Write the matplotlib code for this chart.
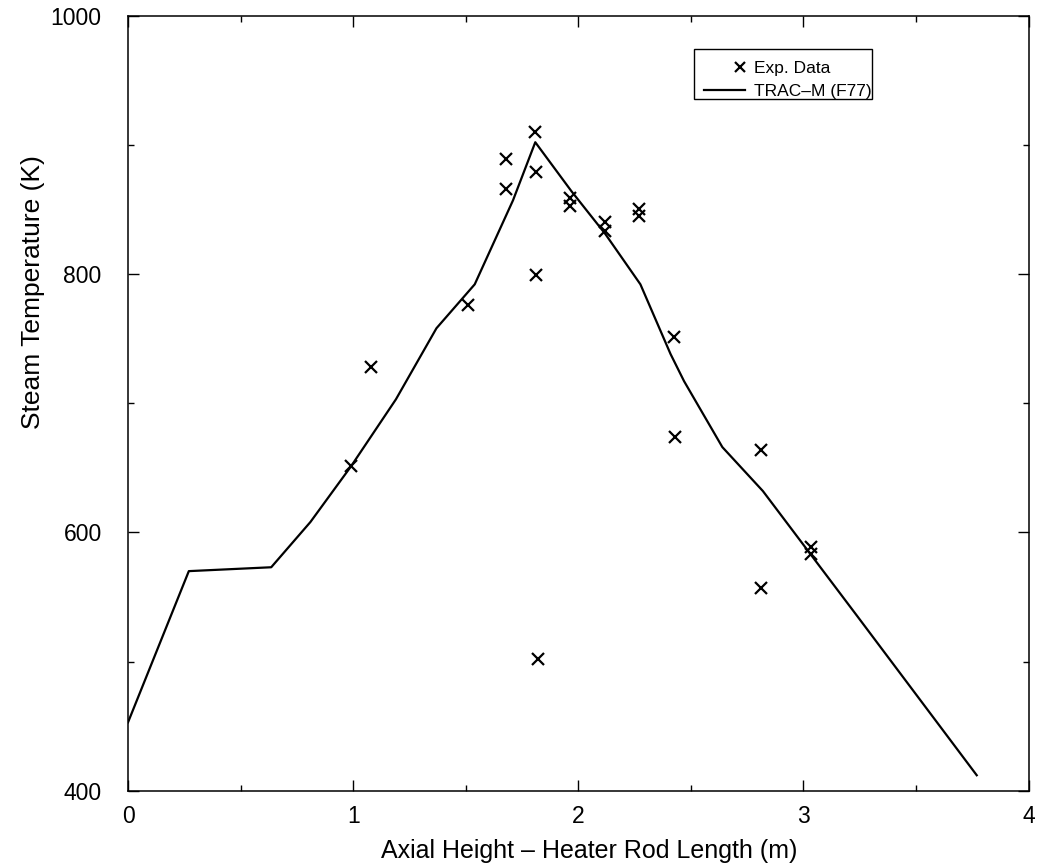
import numpy as np
import matplotlib
matplotlib.use("Agg")
import matplotlib.pyplot as plt
from matplotlib.patches import Rectangle
from matplotlib.ticker import MultipleLocator
from matplotlib.legend_handler import HandlerLine2DCompound

plt.rcParams['font.family'] = ['Liberation Sans', 'DejaVu Sans']

# TRAC-M (F77) calculated steam temperature along the heater rod
calc_height = [0.0, 0.27, 0.636, 0.81, 0.99, 1.19, 1.37, 1.54, 1.71, 1.809,
               1.97, 2.12, 2.276, 2.41, 2.47, 2.64, 2.82, 3.24, 3.77]
calc_temp = [453, 570, 573, 608, 651, 703, 758, 792, 857, 902,
             864, 831, 792, 738, 717, 666, 632, 535, 412]

# measured steam temperatures
exp_height = [0.99, 1.08, 1.51, 1.68, 1.68, 1.809, 1.81, 1.81, 1.82,
              1.965, 1.965, 2.12, 2.12, 2.27, 2.27, 2.427, 2.43,
              2.81, 2.81, 3.035, 3.035]
exp_temp = [651, 728, 776, 889, 866, 910, 879, 799, 502,
            859, 853, 840, 833, 850, 845, 751, 674,
            664, 557, 589, 583]


class RightMarkerHandler(HandlerLine2DCompound):
    # puts the single legend marker near the right end of the handle
    def get_xdata(self, legend, xdescent, ydescent, width, height, fontsize):
        xdata, _ = super().get_xdata(legend, xdescent, ydescent, width, height, fontsize)
        return xdata, np.array([-xdescent + 0.88 * width])


def plot_steam_temp():
    fig = plt.figure(figsize=(10.41, 8.68), dpi=100)
    ax = fig.add_axes([0.123, 0.089, 0.865, 0.893])

    exp_line, = ax.plot(exp_height, exp_temp, linestyle='none', marker='x', color='black',
                        markersize=9, markeredgewidth=1.6, label='Exp. Data')
    ax.plot(calc_height, calc_temp, color='black', linewidth=1.6,
            label='TRAC\u2013M (F77)')

    ax.set_xlim(0, 4)
    ax.set_ylim(400, 1000)
    ax.xaxis.set_major_locator(MultipleLocator(1))
    ax.xaxis.set_minor_locator(MultipleLocator(0.5))
    ax.yaxis.set_major_locator(MultipleLocator(200))
    ax.yaxis.set_minor_locator(MultipleLocator(100))
    ax.tick_params(which='both', direction='in', top=True, right=True,
                   width=1.0, labelsize=16.5)
    ax.tick_params(which='major', length=8)
    ax.tick_params(which='minor', length=4)
    ax.tick_params(axis='x', which='major', pad=10)
    ax.tick_params(axis='y', which='major', pad=19)
    for s in ax.spines.values():
        s.set_linewidth(1.1)

    ax.set_xlabel('Axial Height \u2013 Heater Rod Length (m)', fontsize=18)
    ax.set_ylabel('Steam Temperature (K)', fontsize=19)
    ax.xaxis.set_label_coords(0.512, -0.062)
    ax.yaxis.set_label_coords(-0.092, 0.643)

    # legend text runs a little past its box, so the box is drawn separately
    ax.legend(loc='upper left', bbox_to_anchor=(0.622, 0.962),
              fontsize=12.5, frameon=False, handlelength=2.4,
              handletextpad=0.5, borderpad=0.4, labelspacing=0.45,
              numpoints=1, markerscale=0.85,
              handler_map={exp_line: RightMarkerHandler()})
    ax.add_patch(Rectangle((0.628, 0.893), 0.198, 0.064, transform=ax.transAxes,
                           fill=False, edgecolor='black', linewidth=1.0))

    fig.savefig('out.png', dpi=100)


if __name__ == "__main__":
    plot_steam_temp()
